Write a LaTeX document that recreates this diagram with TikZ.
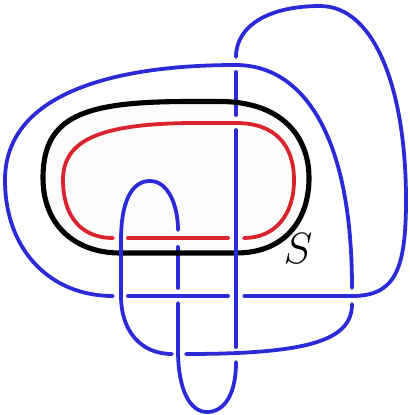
\documentclass[tikz,border=0pt]{standalone}
\definecolor{nudoBlue}{HTML}{2A2AD6}
\definecolor{nudoRed}{HTML}{D9232E}
\definecolor{nudoPaper}{HTML}{FCFCFC}
\usetikzlibrary{
	positioning
}
\tikzset{
	hebra/.style={
		draw=nudoBlue,
		line width=2.15pt,
		line cap=round
	},
	lazo/.style={
		draw=nudoRed,
		line width=2.15pt,
		line cap=round
	},
	borde/.style={
		draw=black,
		line width=2.9pt
	},
	etiqueta/.style={
		font=\Huge,
		inner sep=0pt
	}
}
\begin{document}
\begin{tikzpicture}[x=0.02cm,y=-0.02cm]
		\useasboundingbox (0,0) rectangle (409,415);
		\fill[nudoPaper] (190,101.5) .. controls (85,101.5) and (43,115) .. (43,178) .. controls (43,225) and (75,253) .. (120,253) -- (236,253) .. controls (285,253) and (309,220) .. (309,178) .. controls (309,135) and (280,101.5) .. (220,101.5) -- cycle;
		% hebras que pasan por debajo del borde
		\draw[hebra] (236,72) -- (236,115);
		\draw[hebra] (178,247) -- (178,288);
		\draw[borde] (190,101.5) .. controls (85,101.5) and (43,115) .. (43,178) .. controls (43,225) and (75,253) .. (120,253) -- (236,253) .. controls (285,253) and (309,220) .. (309,178) .. controls (309,135) and (280,101.5) .. (220,101.5) -- cycle;
		% lazo
		\draw[lazo] (113,238) .. controls (80,238) and (63,215) .. (63,180) .. controls (63,140) and (100,124) .. (190,123) -- (236,123) .. controls (275,123) and (294,145) .. (294,180) .. controls (294,215) and (275,238) .. (244,238);
		\draw[lazo] (128,238) -- (228,238);
		% nudo
		\draw[hebra] (113,296) .. controls (50,296) and (5,250) .. (5,180) .. controls (5,95) and (110,65) .. (236,65) .. controls (300,65) and (352,130) .. (352,288);
		\draw[hebra] (352,304) .. controls (352,340) and (310,354) .. (186,354);
		\draw[hebra] (172,354) .. controls (140,354) and (121,330) .. (121,296) -- (121,240) .. controls (121,205) and (130,181) .. (150,181) .. controls (168,181) and (178,205) .. (178,230);
		\draw[hebra] (178,303) -- (178,350) .. controls (178,390) and (190,412) .. (207,412) .. controls (224,412) and (236,395) .. (236,362);
		\draw[hebra] (236,347) -- (236,130);
		\draw[hebra] (236,57) .. controls (236,25) and (270,6) .. (320,6) .. controls (375,6) and (406,90) .. (406,200) .. controls (406,270) and (395,296) .. (352,296) -- (244,296);
		\draw[hebra] (228,296) -- (128,296);
		\node[etiqueta] (etiquetaS) at (298,249) {$S$};
	\end{tikzpicture}
\end{document}
